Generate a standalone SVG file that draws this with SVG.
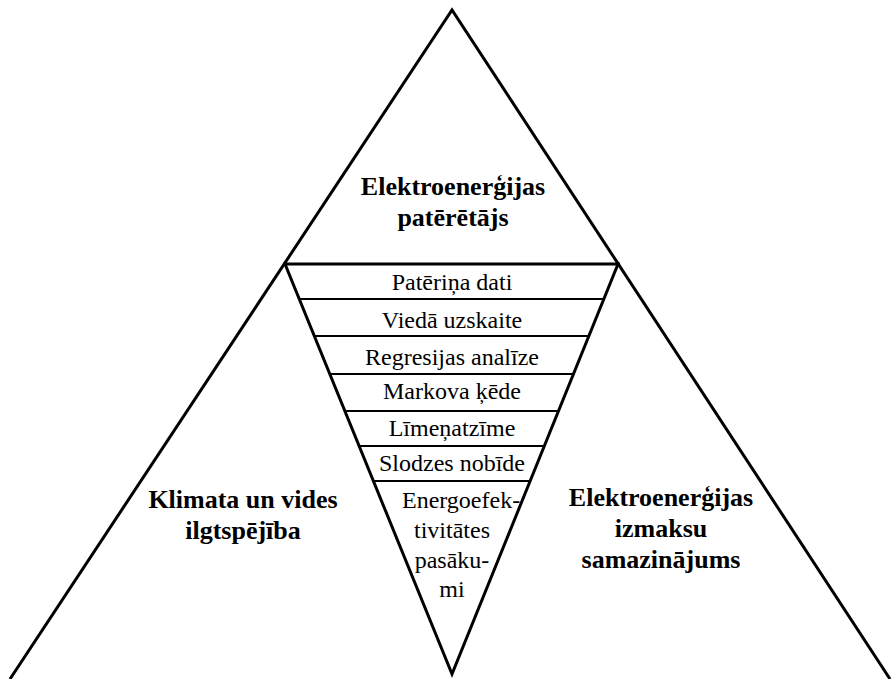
<svg xmlns="http://www.w3.org/2000/svg" width="892" height="679" viewBox="0 0 892 679">
<style>
.ln{fill:none;stroke:#000;stroke-width:3;stroke-linejoin:miter}
.band{stroke:#000;stroke-width:2}
.t{font-family:'Liberation Serif','DejaVu Serif',serif;font-size:24px;fill:#000;text-anchor:middle}
.b{font-family:'Liberation Serif','DejaVu Serif',serif;font-size:26px;font-weight:bold;fill:#000;text-anchor:middle}
</style>
<rect width="892" height="679" fill="#fff"/>
<g id="outer">
<polyline class="ln" points="10,679 452,10 890,679"/>
</g>
<g id="inner">
<polygon class="ln" points="285,264 618,264 452,674"/>
</g>
<g id="bands">
<line class="band" x1="299.2" y1="299" x2="603.8" y2="299"/>
<line class="band" x1="314.3" y1="336" x2="588.7" y2="336"/>
<line class="band" x1="329.7" y1="374" x2="573.3" y2="374"/>
<line class="band" x1="344.7" y1="411" x2="558.3" y2="411"/>
<line class="band" x1="358.9" y1="446" x2="544.1" y2="446"/>
<line class="band" x1="373.1" y1="481" x2="529.9" y2="481"/>
</g>
<g id="top-label">
<text class="b" x="453" y="195">Elektroenerģijas</text>
<text class="b" x="453" y="226">patērētājs</text>
</g>
<g id="left-label">
<text class="b" x="243" y="508">Klimata un vides</text>
<text class="b" x="243" y="539">ilgtspējība</text>
</g>
<g id="right-label">
<text class="b" x="661" y="506">Elektroenerģijas</text>
<text class="b" x="661" y="537">izmaksu</text>
<text class="b" x="661" y="568">samazinājums</text>
</g>
<g id="band-labels">
<text class="t" x="452" y="290">Patēriņa dati</text>
<text class="t" x="452" y="328">Viedā uzskaite</text>
<text class="t" x="452" y="365">Regresijas analīze</text>
<text class="t" x="452" y="399">Markova ķēde</text>
<text class="t" x="452" y="436">Līmeņatzīme</text>
<text class="t" x="452" y="471">Slodzes nobīde</text>
<text class="t" x="402" y="508" style="text-anchor:start">Energoefek-</text>
<text class="t" x="452" y="538">tivitātes</text>
<text class="t" x="452" y="568">pasāku-</text>
<text class="t" x="452" y="597">mi</text>
</g>
</svg>
